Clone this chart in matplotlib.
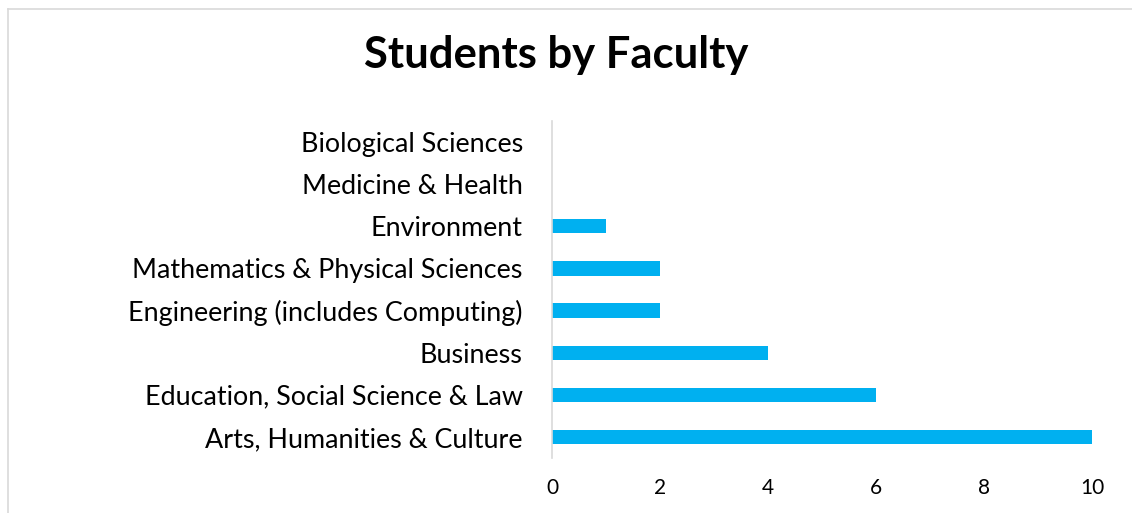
import matplotlib
matplotlib.use('Agg')
import matplotlib.pyplot as plt
from matplotlib.lines import Line2D

plt.rcParams['font.family'] = ['Lato', 'DejaVu Sans']

faculties = ['Arts, Humanities & Culture', 'Education, Social Science & Law', 'Business',
             'Engineering (includes Computing)', 'Mathematics & Physical Sciences',
             'Environment', 'Medicine & Health', 'Biological Sciences']
students = [10, 6, 4, 2, 2, 1, 0, 0]
xticks = [0, 2, 4, 6, 8, 10]

fig = plt.figure(figsize=(11.32, 5.13), dpi=100)
ax = fig.add_axes([552 / 1132, 1 - 458 / 513, 540 / 1132, 337 / 513])

ypos = range(len(faculties))
ax.barh(ypos, students, height=0.34, color='#00B0F0')
ax.set_xlim(0, 10)
ax.set_ylim(-0.5, len(faculties) - 0.5)
ax.set_yticks(list(ypos))
ax.set_yticklabels(faculties, fontsize=19.4, color='#000000')
ax.set_xticks(xticks)
ax.set_xticklabels([str(t) for t in xticks], fontsize=15, color='#000000')
ax.tick_params(axis='y', length=0, pad=21)
ax.tick_params(axis='x', length=0, pad=14.2)
for s in ['top', 'right', 'bottom']:
    ax.spines[s].set_visible(False)
ax.spines['left'].set_color('#d9d9d9')
ax.spines['left'].set_linewidth(1.2)

fig.text(556 / 1132, 1 - 68 / 513, 'Students by Faculty', ha='center', va='baseline',
         fontsize=31.4, fontweight='bold', color='#000000')

# chart border (only left and top visible in the crop)
fig.add_artist(Line2D([8 / 1132, 8 / 1132], [0, 1 - 9 / 513], transform=fig.transFigure,
                      color='#d9d9d9', lw=1.2))
fig.add_artist(Line2D([8 / 1132, 1], [1 - 9 / 513, 1 - 9 / 513], transform=fig.transFigure,
                      color='#d9d9d9', lw=1.2))

fig.savefig('out.png', dpi=100)
